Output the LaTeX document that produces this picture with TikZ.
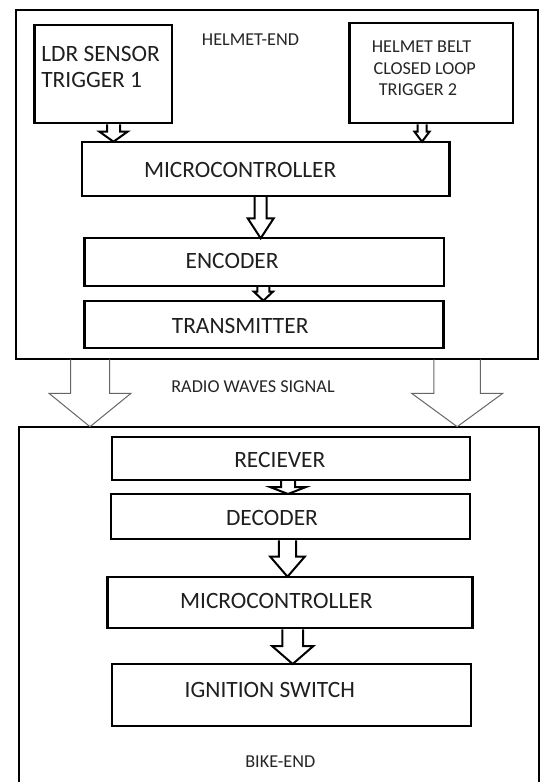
\documentclass[tikz,border=0pt]{standalone}
\usepackage{fontspec}
\setmainfont{Carlito}
\usetikzlibrary{calc}
\tikzset{
  box/.style={draw=black, line width=2.2pt, rectangle, inner sep=0pt, outer sep=0pt},
  frame/.style={draw=black, line width=2pt, rectangle, inner sep=0pt, outer sep=0pt},
  biglbl/.style={font=\fontsize{23.4}{25.8}\selectfont, inner sep=0pt, outer sep=0pt, text=black!88},
  smalllbl/.style={font=\fontsize{18.2}{21.65}\selectfont, inner sep=0pt, outer sep=0pt, text=black!85},
  barrow/.style={draw=black, line width=2pt, fill=white, line join=miter},
  wave/.style={draw=black!60, line width=1pt},
}
% #1 style, #2 x-coordinate name, #3 from node, #4 to node,
% #5 shaft half width, #6 head half width, #7 head length
\newcommand\blockarr[7]{%
  \draw[#1] ($(#2 |- #3.south)+(-#5,1)$) -- ($(#2 |- #4.north)+(-#5,-#7)$)
    -- ($(#2 |- #4.north)+(-#6,-#7)$) -- (#2 |- #4.north)
    -- ($(#2 |- #4.north)+(#6,-#7)$) -- ($(#2 |- #4.north)+(#5,-#7)$)
    -- ($(#2 |- #3.south)+(#5,1)$);}
\newcommand\wavearr[6]{%
  \draw[wave] ($(#1 |- #2.south)+(-#4,0)$) -- ($(#1 |- #3.north)+(-#4,-#6)$)
    -- ($(#1 |- #3.north)+(-#5,-#6)$) -- (#1 |- #3.north)
    -- ($(#1 |- #3.north)+(#5,-#6)$) -- ($(#1 |- #3.north)+(#4,-#6)$)
    -- ($(#1 |- #2.south)+(#4,0)$);}
\begin{document}
\begin{tikzpicture}[x=1pt,y=-1pt]
\useasboundingbox (0,0) rectangle (540,782);
\fill[white] (0,0) rectangle (540,782);

% ---------- helmet end ----------
\node[frame, minimum width=522.4pt, minimum height=349.3pt] (helmet) at (276.7,184.65) {};
\node[smalllbl] (helmett) at (250.5,39.2) {HELMET-END};

\node[box, minimum width=137.8pt, minimum height=98.3pt] (ldr) at (103.3,74.15) {};
\node[biglbl, align=left, anchor=west] (ldrt) at ($(ldr.west)+(6.9,-7.05)$) {LDR SENSOR\\TRIGGER 1};

\node[box, minimum width=163.6pt, minimum height=100pt] (belt) at (431.3,73.3) {};
\node[smalllbl, align=left, anchor=west] (beltt) at ($(belt.west)+(22.4,-4.95)$)
  {HELMET BELT\\\hspace*{1.7pt}CLOSED LOOP\\\hspace*{6.9pt}TRIGGER 2};

\node[box, minimum width=367.8pt, minimum height=54.3pt] (mc1) at (265.5,168.85) {};
\node[biglbl] (mc1t) at ($(mc1)+(-25.3,1.15)$) {MICROCONTROLLER};

\node[box, minimum width=359.8pt, minimum height=47.7pt] (enc) at (264.3,262.15) {};
\node[biglbl] (enct) at ($(enc)+(-32.2,-0.95)$) {ENCODER};

\node[box, minimum width=359.1pt, minimum height=47.6pt] (tx) at (263.95,324.5) {};
\node[biglbl] (txt) at ($(tx)+(-23.75,1.3)$) {TRANSMITTER};

% ---------- bike end ----------
\node[frame, minimum width=520pt, minimum height=363.3pt] (bike) at (278.9,608.35) {};
\node[smalllbl] (biket) at (280.3,761.7) {BIKE-END};

\node[box, minimum width=358.1pt, minimum height=43.3pt] (rx) at (290.95,458.35) {};
\node[biglbl] (rxt) at ($(rx)+(-11.15,1.95)$) {RECIEVER};

\node[box, minimum width=359.1pt, minimum height=45.3pt] (dec) at (290.45,516.65) {};
\node[biglbl] (dect) at ($(dec)+(-18.45,1.35)$) {DECODER};

\node[box, minimum width=365.1pt, minimum height=51.6pt] (mc2) at (289.95,602.5) {};
\node[biglbl] (mc2t) at ($(mc2)+(-13.65,-1.7)$) {MICROCONTROLLER};

\node[box, minimum width=359.1pt, minimum height=62pt] (ign) at (291.45,695) {};
\node[biglbl] (ignt) at ($(ign)+(-21.65,-5)$) {IGNITION SWITCH};

% ---------- radio link ----------
\node[smalllbl] (radiot) at (253,386.5) {RADIO WAVES SIGNAL};
\coordinate (wl) at (90,0);
\coordinate (wr) at (457.2,0);
\wavearr{wl}{helmet}{bike}{19.5}{41}{33.4}
\wavearr{wr}{helmet}{bike}{23.25}{45.6}{33.4}

% ---------- block arrows ----------
\coordinate (a1) at (113.5,0);
\coordinate (a2) at (422,0);
\coordinate (a3) at (260.7,0);
\coordinate (a4) at (263.4,0);
\coordinate (a5) at (288,0);
\coordinate (a6) at (287.5,0);
\coordinate (a7) at (292.7,0);
\blockarr{barrow}{a1}{ldr}{mc1}{6.5}{14}{10}
\blockarr{barrow}{a2}{belt}{mc1}{4.5}{7.5}{10}
\blockarr{barrow}{a3}{mc1}{enc}{6}{13}{20}
\blockarr{barrow}{a4}{enc}{tx}{6}{9.5}{9}
\blockarr{barrow}{a5}{rx}{dec}{7}{18}{7}
\blockarr{barrow}{a6}{dec}{mc2}{8.6}{17.2}{20}
\blockarr{barrow}{a7}{mc2}{ign}{10.3}{20.7}{18}
\end{tikzpicture}
\end{document}
